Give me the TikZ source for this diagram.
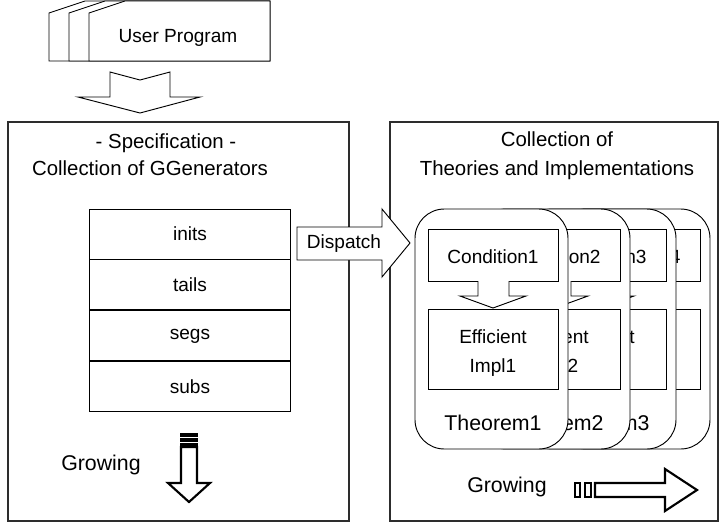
\documentclass[tikz,border=0pt]{standalone}
\usepackage{fontspec}
\setmainfont{Liberation Sans}
\usetikzlibrary{positioning}
\definecolor{edgegray}{RGB}{45,45,45}

\begin{document}
\begin{tikzpicture}[x=0.75pt, y=-0.75pt, line width=0.7pt, line join=miter,
  every node/.style={font=\fontsize{14.3}{17}\selectfont},
  big/.style={font=\fontsize{16}{18}\selectfont},
  head/.style={font=\fontsize{15.3}{22}\selectfont},
  frame/.style={draw=edgegray, line width=0.8pt},
  cell/.style={draw, fill=white, minimum width=150.75pt, minimum height=37.5pt, inner sep=0pt},
  card/.style={draw, fill=white, rounded corners=22pt, minimum width=114.75pt, minimum height=180pt, inner sep=0pt},
  cond/.style={draw, fill=white, minimum width=97.5pt, minimum height=39pt, inner sep=0pt},
  impl/.style={draw, fill=white, minimum width=97.5pt, minimum height=60pt, inner sep=0pt},
  blockarrow/.style={draw, fill=white},
  growarrow/.style={draw, fill=white, line width=1.6pt}
]
\useasboundingbox (0,0) rectangle (722,526);
\foreach \xl in {49,69,89}
  \draw[fill=white] (\xl,61) -- (\xl,13) -- (\xl+36,1) -- (270,1) -- (270,61) -- cycle;
\node (prog) at (178,38) {User Program};
\draw[blockarrow] (110,72) -- (140,80) -- (170,72) -- (170,97) -- (200,97) -- (140,113)
  -- (78,97) -- (110,97) -- cycle;
\draw[frame] (8,122) rectangle (349,521);
\draw[frame] (390,122) rectangle (718,521);
\node[head] (spec) at (166,143) {- Specification -};
\node[head] (gens) at (150,168) {Collection of GGenerators};
\node[head, align=center] (theo) at (557,156) {Collection of\\Theories and Implementations};
\node[cell] (inits) at (190,234) {inits};
\node[cell, below=0pt of inits] (tails) {tails};
\node[cell, below=0pt of tails] (segs) {segs};
\node[cell, below=0pt of segs] (subs) {subs};
\draw[blockarrow] (297,227) -- (382,227) -- (382,209) -- (410,243) -- (382,277)
  -- (382,260) -- (297,260) -- cycle;
\node (dispatch) at (344,244) {Dispatch};
\foreach \n/\l in {4/557,3/523,2/477,1/415}{
  \node[card] (card\n) at (\l+76.5,329) {};
  \node[cond] (cond\n) at (\l+78,255) {};
  \node at (cond\n.center) [yshift=-1.5pt] {Condition\n};
  \node[impl] (impl\n) at (\l+78,349) {};
  \node[align=center, font=\fontsize{14.3}{21.5}\selectfont] at ([yshift=-3pt]impl\n.center) {Efficient\\Impl\n};
  \draw[blockarrow] (\l+63,281) -- (\l+63,296) -- (\l+45,296) -- (\l+78,308)
    -- (\l+111,296) -- (\l+94,296) -- (\l+94,281);
  \ifnum\n<4 \node[big] (thm\n) at (\l+78,423) {Theorem\n};\fi
}
\node[big] (growl) at (101,465) {Growing};
\draw[growarrow] (181,447) -- (181,483) -- (168,483) -- (189,502) -- (210,483) -- (197,483)
  -- (197,447) -- cycle;
\foreach \yt/\yb in {433/436.5,437.5/441.5,442.5/447}
  \fill (180,\yt) rectangle (198,\yb);
\node[big] (growr) at (507,487) {Growing};
\draw[growarrow] (595,483) -- (665,483) -- (665,469) -- (697,490) -- (665,511) -- (665,497)
  -- (595,497) -- cycle;
\draw[line width=1.6pt] (575,483) rectangle (580,497);
\draw[line width=1.6pt] (585,483) rectangle (591,497);
\end{tikzpicture}
\end{document}
